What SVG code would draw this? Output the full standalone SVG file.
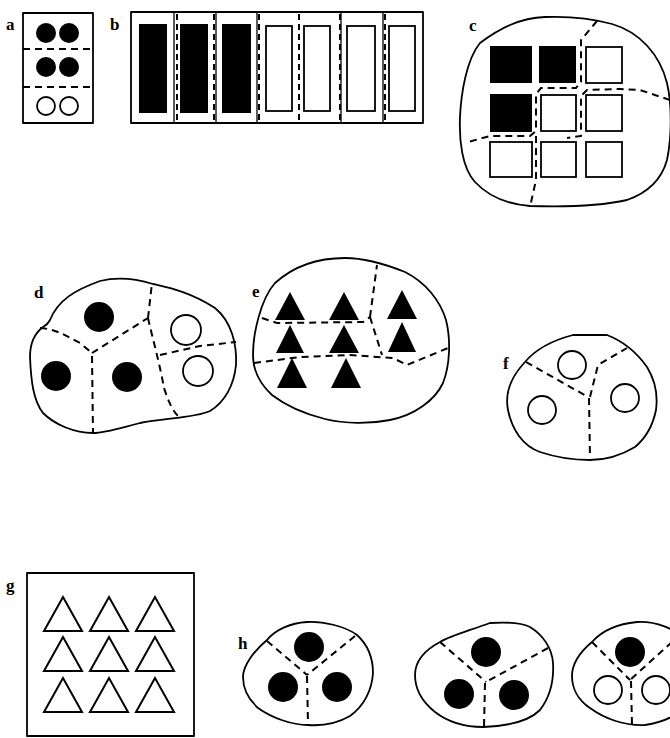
<svg xmlns="http://www.w3.org/2000/svg" width="670" height="738" viewBox="0 0 670 738">
<style>
.lbl{font-family:"Liberation Serif",serif;font-weight:bold;font-size:17px;fill:#000}
.ol{fill:none;stroke:#000;stroke-width:1.8;stroke-linejoin:round}
.dash{fill:none;stroke:#000;stroke-width:2;stroke-dasharray:7 5}
.thin{fill:none;stroke:#000;stroke-width:1.3}
.blk{fill:#000}
.opn{fill:#fff;stroke:#000;stroke-width:1.8}
</style>
<rect width="670" height="738" fill="#fff"/>

<g id="panel-a">
<text class="lbl" x="6" y="30">a</text>
<rect class="ol" x="23" y="13" width="70" height="110"/>
<line class="dash" x1="23" y1="49" x2="93" y2="49"/>
<line class="dash" x1="23" y1="87" x2="93" y2="87"/>
<circle class="blk" cx="46" cy="33" r="10"/><circle class="blk" cx="69" cy="33" r="10"/>
<circle class="blk" cx="46" cy="67" r="10"/><circle class="blk" cx="69" cy="67" r="10"/>
<circle class="opn" cx="46" cy="106" r="9"/><circle class="opn" cx="69" cy="106" r="9"/>
</g>

<g id="panel-b">
<text class="lbl" x="110" y="30">b</text>
<rect class="ol" x="131" y="12" width="292" height="111"/>
<g class="thin">
<line x1="174" y1="12" x2="174" y2="123"/><line x1="216" y1="12" x2="216" y2="123"/>
<line x1="257" y1="12" x2="257" y2="123"/><line x1="341" y1="12" x2="341" y2="123"/>
<line x1="383" y1="12" x2="383" y2="123"/>
</g>
<g class="dash" style="stroke-dasharray:6 4">
<line x1="177" y1="14" x2="177" y2="121"/><line x1="214" y1="14" x2="214" y2="121"/>
<line x1="259" y1="14" x2="259" y2="121"/><line x1="299" y1="14" x2="299" y2="121"/>
<line x1="340" y1="14" x2="340" y2="121"/><line x1="385" y1="14" x2="385" y2="121"/>
</g>
<rect class="blk" x="139" y="24" width="28" height="89"/>
<rect class="blk" x="180" y="24" width="28" height="89"/>
<rect class="blk" x="222" y="24" width="29" height="89"/>
<rect class="opn" x="266" y="26" width="26" height="85"/>
<rect class="opn" x="304" y="26" width="26" height="85"/>
<rect class="opn" x="347" y="26" width="28" height="85"/>
<rect class="opn" x="389" y="26" width="26" height="85"/>
</g>

<g id="panel-c">
<text class="lbl" x="469" y="31">c</text>
<path class="ol" d="M480,43 C500,28 520,18 545,17 C570,16 590,18 612,24 C640,32 660,55 667,83 C672,105 672,135 667,160 C662,178 650,192 627,200 C600,206 560,207 530,206 C505,204 488,196 475,182 C462,168 459,140 460,117 C461,95 466,60 480,43 Z"/>
<rect class="blk" x="490" y="46" width="42" height="37"/>
<rect class="blk" x="539" y="46" width="37" height="37"/>
<rect class="opn" x="586" y="47" width="36" height="36"/>
<rect class="blk" x="490" y="94" width="42" height="38"/>
<rect class="opn" x="541" y="95" width="35" height="36"/>
<rect class="opn" x="586" y="95" width="36" height="36"/>
<rect class="opn" x="490" y="142" width="42" height="35"/>
<rect class="opn" x="541" y="142" width="35" height="35"/>
<rect class="opn" x="586" y="142" width="36" height="35"/>
<path class="dash" d="M597,21 L581,40 L581,82 L576,88 L541,88 L536,94 L536,131 L530,136 L490,136 L468,142"/>
<path class="dash" d="M536,136 L536,180 L530,207"/>
<path class="dash" d="M670,100 L640,90 L620,89 L587,90 L581,96 L581,136 L567,138"/>
</g>

<g id="panel-d">
<text class="lbl" x="34" y="298">d</text>
<path class="ol" d="M50,320 C58,300 75,290 100,281 C120,276 140,280 153,284 C170,288 190,292 215,308 C232,322 237,345 236,365 C234,385 225,402 210,411 C195,418 165,418 140,423 C120,428 105,433 93,433 C75,433 55,425 43,413 C33,400 31,380 30,357 C30,342 35,333 43,327 C47,325 49,322 50,320 Z"/>
<path class="dash" d="M40,328 C55,329 65,335 80,343 L92,353"/>
<path class="dash" d="M92,353 L148,318"/>
<path class="dash" d="M92,356 L93,433"/>
<path class="dash" d="M148,318 L152,283"/>
<path class="dash" d="M148,318 C153,340 160,365 164,388 C168,400 172,410 178,416"/>
<path class="dash" d="M160,355 L200,346 L236,342"/>
<circle class="blk" cx="99" cy="317" r="15"/>
<circle class="blk" cx="56" cy="376" r="15"/>
<circle class="blk" cx="127" cy="377" r="15"/>
<circle class="opn" cx="186" cy="330" r="15"/>
<circle class="opn" cx="198" cy="371" r="15"/>
</g>

<g id="panel-e">
<text class="lbl" x="252" y="297">e</text>
<path class="ol" d="M275,283 C295,265 320,258 345,258 C365,258 385,264 405,272 C425,282 440,300 446,320 C451,340 450,365 443,383 C435,400 415,415 390,420 C370,424 345,424 325,419 C305,414 285,405 272,395 C259,383 253,370 253,355 C253,335 260,300 275,283 Z"/>
<path class="dash" d="M262,318 L277,323 L363,322 L370,317"/>
<path class="dash" d="M370,317 L377,265"/>
<path class="dash" d="M370,317 L382,355"/>
<path class="dash" d="M254,363 L300,357 L350,355 L393,358 L407,365 L448,348"/>
<g class="blk">
<polygon points="290,292 275,320 305,320"/><polygon points="344,292 329,320 359,320"/><polygon points="402,290 387,319 417,319"/>
<polygon points="290,325 276,353 304,353"/><polygon points="344,325 329,353 359,353"/><polygon points="402,322 388,352 416,352"/>
<polygon points="292,358 277,388 307,388"/><polygon points="346,358 331,388 361,388"/>
</g>
</g>

<g id="panel-f">
<text class="lbl" x="503" y="369">f</text>
<path class="ol" d="M525,362 C535,350 550,341 573,335 L607,335 C620,340 635,350 647,367 C655,380 658,395 656,410 C653,425 647,437 635,447 C620,456 605,460 590,460 C575,460 558,458 540,452 C523,446 512,430 508,410 C505,395 510,378 525,362 Z"/>
<path class="dash" d="M526,362 L588,397"/>
<path class="dash" d="M590,397 L598,365 L627,348"/>
<path class="dash" d="M589,398 L590,458"/>
<circle class="opn" cx="572" cy="365" r="14"/>
<circle class="opn" cx="542" cy="410" r="14"/>
<circle class="opn" cx="625" cy="398" r="14"/>
</g>

<g id="panel-g">
<text class="lbl" x="6" y="591">g</text>
<rect class="ol" x="27" y="573" width="167" height="163"/>
<g class="opn" style="fill:none;stroke-width:2;stroke-linejoin:miter">
<polygon points="63,597 44,631 82,631"/><polygon points="109,597 90,631 128,631"/><polygon points="155,597 136,631 174,631"/>
<polygon points="63,637 44,671 82,671"/><polygon points="109,637 90,671 128,671"/><polygon points="155,637 136,671 174,671"/>
<polygon points="63,678 44,712 82,712"/><polygon points="109,678 90,712 128,712"/><polygon points="155,678 136,712 174,712"/>
</g>
</g>

<g id="panel-h1">
<text class="lbl" x="238" y="649">h</text>
<path class="ol" d="M267,640 C275,630 290,623 307,622 C322,621 345,626 357,635 C368,645 373,658 373,673 C372,690 364,706 350,716 C338,723 322,726 308,725 C292,725 272,718 258,708 C247,698 243,687 243,677 C243,665 255,650 267,640 Z"/>
<path class="dash" d="M267,641 L307,675"/>
<path class="dash" d="M355,636 L307,675"/>
<path class="dash" d="M307,676 L308,723"/>
<circle class="blk" cx="309" cy="647" r="15"/>
<circle class="blk" cx="283" cy="687" r="15"/>
<circle class="blk" cx="337" cy="687" r="15"/>
</g>

<g id="panel-h2">
<path class="ol" d="M440,642 C450,636 465,632 490,623 C505,622 520,622 530,627 C543,635 552,648 553,663 C554,680 550,697 540,710 C530,720 510,726 483,727 C465,727 448,722 435,712 C420,700 415,688 415,675 C415,660 425,650 440,642 Z"/>
<path class="dash" d="M440,642 L486,682"/>
<path class="dash" d="M548,648 L486,682"/>
<path class="dash" d="M485,683 L484,727"/>
<circle class="blk" cx="486" cy="652" r="15"/>
<circle class="blk" cx="459" cy="694" r="15"/>
<circle class="blk" cx="514" cy="695" r="15"/>
</g>

<g id="panel-h3">
<path class="ol" d="M592,642 C600,633 615,624 637,622 C655,621 675,628 688,642 C696,655 697,675 690,698 C682,715 665,722 645,725 C625,726 605,719 590,708 C578,700 572,688 572,676 C572,663 580,652 592,642 Z"/>
<path class="dash" d="M592,642 L630,680"/>
<path class="dash" d="M672,642 L630,680"/>
<path class="dash" d="M631,681 L632,725"/>
<circle class="blk" cx="630" cy="652" r="15"/>
<circle class="opn" cx="608" cy="690" r="14"/>
<circle class="opn" cx="656" cy="690" r="14"/>
</g>
</svg>
